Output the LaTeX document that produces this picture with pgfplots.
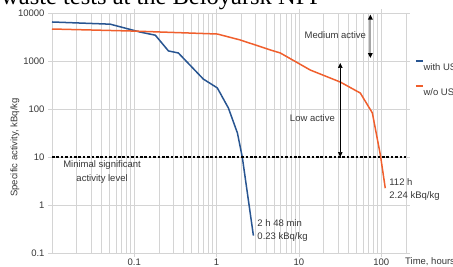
\documentclass[border=0pt]{standalone}
\usepackage{pgfplots}
\pgfplotsset{compat=1.18}
\usepackage{fontspec}
\setmainfont{Liberation Sans}
\newfontfamily\titlefont{Liberation Serif}
\usetikzlibrary{arrows.meta}
\definecolor{bluec}{RGB}{40,85,145}
\definecolor{orangec}{RGB}{240,95,45}
\definecolor{gridc}{RGB}{212,212,212}
\definecolor{txtc}{RGB}{55,55,55}
\newcommand{\lbl}{\fontsize{9.5}{11}\selectfont}

\begin{document}
\begin{tikzpicture}
\begin{axis}[
  at={(0pt,0pt)}, anchor=south west,
  scale only axis, width=354pt, height=240pt,
  xmode=log, ymode=log,
  xmin=0.01, xmax=200, ymin=0.1, ymax=10000,
  xtick={0.1,1,10,100}, xticklabels={0.1,1,10,100},
  minor xtick={0.02,0.03,0.04,0.05,0.06,0.07,0.08,0.09,0.2,0.3,0.4,0.5,0.6,0.7,0.8,0.9,2,3,4,5,6,7,8,9,20,30,40,50,60,70,80,90},
  ytick={0.1,1,10,100,1000,10000}, yticklabels={0.1,1,10,100,1000,10000},
  xmajorgrids, xminorgrids, ymajorgrids,
  major grid style={gridc, line width=0.8pt},
  minor grid style={gridc, line width=0.8pt},
  axis line style={gridc, line width=0.8pt},
  tick style={gridc, line width=0.8pt},
  tick align=outside, major tick length=4pt, minor tick length=0pt,
  ticklabel style={font=\lbl, text=txtc},
  xticklabel style={yshift=2pt},
  legend style={at={(1.025,0.804)}, anchor=north west, draw=none, fill=none,
    inner sep=0pt, font=\lbl, text=txtc, row sep=13pt,
    nodes={inner sep=0pt}},
  legend cell align=left,
  legend image code/.code={\draw[#1, line width=1.5pt] (0pt,7pt) -- (7pt,7pt);},
  clip=false,
]
\addplot[bluec, line width=1.5pt] coordinates {
 (0.01,6500) (0.051,5850) (0.118,4000) (0.18,3450) (0.26,1620) (0.343,1470)
 (0.69,420) (1.02,275) (1.39,105) (1.79,31.6) (2.05,10) (2.8,0.23)};
\addlegendentry{with US}
\addplot[orangec, line width=1.5pt] coordinates {
 (0.01,4640) (0.1,4200) (1.02,3650) (1.94,2740) (4.49,1700) (5.94,1470)
 (13.7,650) (31.8,365) (55.7,215) (78,83) (97.7,11) (112,2.24)};
\addlegendentry{w/o US}
\addplot[black, line width=1.6pt, dash pattern=on 2.6pt off 1.8pt, forget plot] coordinates {(0.01,10) (200,10)};
\addplot[black!35, line width=2pt, forget plot,
  {Triangle[length=5pt,width=4.5pt,color=black]}-{Triangle[length=5pt,width=4.5pt,color=black]}]
  coordinates {(73.8,1150) (73.8,9300)};
\addplot[black, line width=0.7pt, forget plot,
  {Triangle[length=5pt,width=4.5pt,color=black]}-{Triangle[length=5pt,width=4.5pt,color=black]}]
  coordinates {(31.8,10) (31.8,910)};
\node[font=\fontsize{9.5}{14}\selectfont, text=txtc, align=center, inner sep=0pt] at (axis cs:0.0406,4.87) {Minimal significant\\activity level};
\node[font=\lbl, text=txtc, inner sep=0pt] at (axis cs:27.7,3480) {Medium active};
\node[font=\lbl, text=txtc, inner sep=0pt] at (axis cs:14.6,65) {Low active};
\node[font=\fontsize{9.5}{13}\selectfont, text=txtc, align=left, anchor=west, inner sep=0pt] at (axis cs:3.12,0.294) {2 h 48 min\\0.23 kBq/kg};
\node[font=\fontsize{9.5}{13}\selectfont, text=txtc, align=left, anchor=west, inner sep=0pt] at (axis cs:125,2.1) {112 h\\2.24 kBq/kg};
\node[font=\lbl, text=txtc, anchor=west, inner sep=0pt, yshift=-9pt, xshift=-1pt] at (rel axis cs:1,0) {Time, hours};
\node[font=\lbl, text=txtc, rotate=90, inner sep=0pt] at (rel axis cs:-0.1045,0.44) {Specific activity, kBq/kg};
\end{axis}
\node[anchor=base west, inner sep=0pt, font=\titlefont\fontsize{24.5}{26}\selectfont] at (-51pt,248.5pt) {waste tests at the Beloyarsk NPP};
\pgfresetboundingbox
\path[use as bounding box] (-52pt,-13pt) rectangle (401pt,253pt);
\end{tikzpicture}
\end{document}
